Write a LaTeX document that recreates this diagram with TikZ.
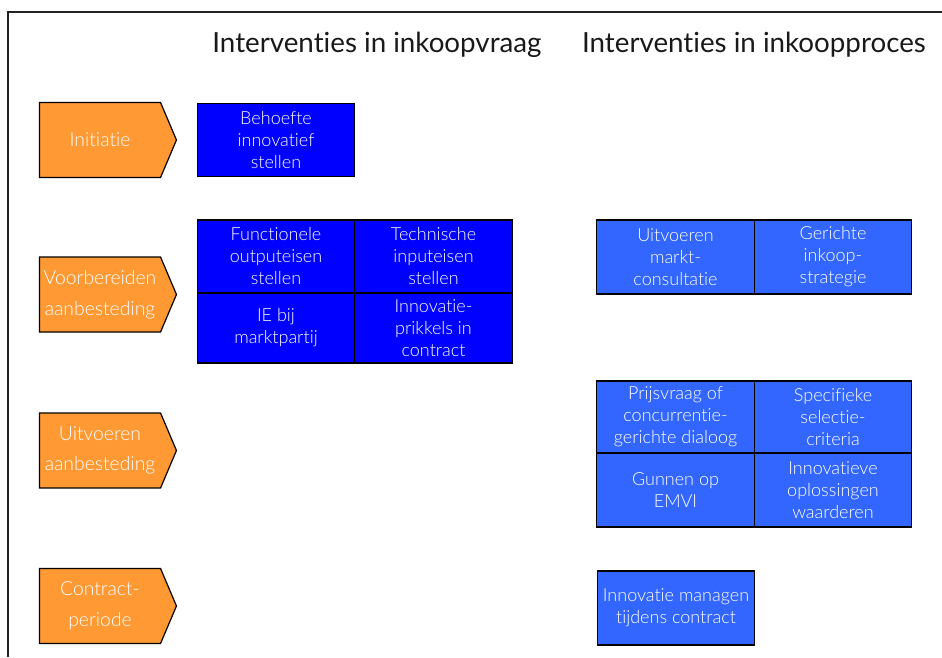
\documentclass[tikz,border=0pt]{standalone}
\usepackage{fontspec}
\setmainfont{Lato}[Ligatures={NoCommon,NoRare}]
\newfontfamily\thinfont{Lato Light}[Ligatures={NoCommon,NoRare}]
\usetikzlibrary{shapes.symbols}
\definecolor{phaseorange}{HTML}{FF9933}
\definecolor{vraagblue}{HTML}{0000FF}
\definecolor{procesblue}{HTML}{3366FF}
\definecolor{framegrey}{HTML}{222222}
\tikzset{
  px/.style={x=0.75pt,y=-0.75pt},
  phase/.style={signal, signal to=east, signal pointer angle=134,
    fill=phaseorange, draw=black, line width=0.9pt,
    minimum width=137*0.75pt, minimum height=75*0.75pt, inner sep=0pt,
    text=white, font=\thinfont\fontsize{14.5pt}{23pt}\selectfont, align=center},
  cell/.style={draw=black, line width=0.9pt, inner sep=0pt,
    minimum width=157.5*0.75pt, minimum height=73*0.75pt,
    text=white, font=\thinfont\fontsize{13.5pt}{16.5pt}\selectfont, align=center},
  vraag/.style={cell, fill=vraagblue},
  proces/.style={cell, fill=procesblue},
  heading/.style={font=\fontsize{20.8pt}{23pt}\selectfont, text=black!90, inner sep=0pt}
}
\begin{document}
\begin{tikzpicture}[px]
\useasboundingbox (0,0) rectangle (942,657);
% frame
\draw[framegrey, line width=1.1pt] (8,657) -- (8,12) -- (942,12);
% column headings
\node[heading] (hvraag) at (377,45) {Interventies in inkoopvraag};
\node[heading] (hproces) at (754,45) {Interventies in inkoopproces};
% phases
\node[phase] (p1) at (100,140) {Initiatie};
\node[phase] (p2) at (100,294.5) {Voorbereiden\\aanbesteding};
\node[phase] (p3) at (100,450.5) {Uitvoeren\\aanbesteding};
\node[phase] (p4) at (100,606) {Contract-\\periode};
% interventions in the demand
\node[vraag] (behoefte) at (276,140) {Behoefte\\innovatief\\stellen};
\node[vraag, minimum height=73*0.75pt] (functioneel) at (276,256.5) {Functionele\\outputeisen\\stellen};
\node[vraag, minimum height=73*0.75pt] (technisch) at (433.5,256.5) {Technische\\inputeisen\\stellen};
\node[vraag, minimum height=70*0.75pt] (ie) at (276,328) {IE bij\\marktpartij};
\node[vraag, minimum height=70*0.75pt] (prikkels) at (433.5,328) {Innovatie-\\prikkels in\\contract};
% interventions in the procurement process
\node[proces, minimum height=74*0.75pt] (consultatie) at (675.5,257) {Uitvoeren\\markt-\\consultatie};
\node[proces, minimum height=74*0.75pt] (strategie) at (833,257) {Gerichte\\inkoop-\\strategie};
\node[proces, minimum height=72*0.75pt] (prijsvraag) at (675.5,417) {Prijsvraag of\\concurrentie-\\gerichte dialoog};
\node[proces, minimum height=72*0.75pt] (selectie) at (833,417) {Specifieke\\selectie-\\criteria};
\node[proces, minimum height=74*0.75pt] (emvi) at (675.5,490) {Gunnen op\\EMVI};
\node[proces, minimum height=74*0.75pt] (waarderen) at (833,490) {Innovatieve\\oplossingen\\waarderen};
\node[proces, minimum height=74*0.75pt] (managen) at (676,608) {Innovatie managen\\tijdens contract};
\end{tikzpicture}
\end{document}
